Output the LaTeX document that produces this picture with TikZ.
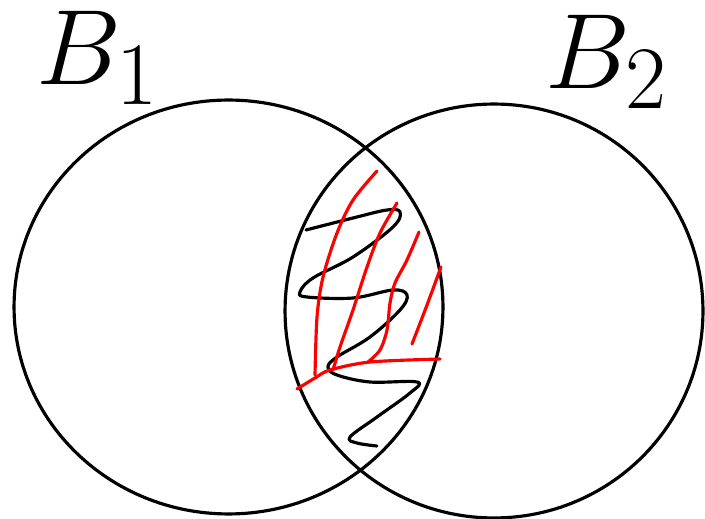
\documentclass[tikz,border=0pt]{standalone}
\usepackage{xcolor}
\tikzset{
  setline/.style={
    draw=black,
    line width=1.8pt
  },
  zigzag/.style={
    draw=black,
    line width=1.8pt,
    line cap=round,
    line join=round
  },
  hatch/.style={
    draw=red,
    line width=1.8pt,
    line cap=round,
    line join=round
  },
  setlabel/.style={
    inner sep=0pt,
    font=\Huge,
    scale=2.45,
    transform shape
  }
}

\begin{document}
\begin{tikzpicture}[x=0.02cm, y=-0.02cm]
  \useasboundingbox (0,0) rectangle (705,519);

  % the two sets
  \draw[setline] (228.5,307) ellipse [x radius=4.29cm, y radius=4.14cm];
  \draw[setline] (494,311) ellipse [x radius=4.18cm, y radius=4.14cm];

  \node[setlabel] (lab1) at (98,58) {$B_1$};
  \node[setlabel] (lab2) at (607,62) {$B_2$};

  % scribble in the overlap
  \draw[zigzag] plot[smooth, tension=0.6] coordinates {
    (306,230) (353,218) (387,210) (400,212) (393,227) (353,257) (313,278)
    (300,292) (307,297) (353,298) (393,290) (407,295) (400,310) (370,337)
    (337,357) (328,367) (337,375) (370,382) (417,382) (410,393) (377,417)
    (350,437) (357,443) (377,446)};

  % red hatching
  \draw[hatch] plot[smooth] coordinates {(377,171) (353,200) (337,233) (323,277) (317,317) (315,375)};
  \draw[hatch] plot[smooth] coordinates {(397,203) (380,233) (367,267) (353,310) (340,347) (333,370)};
  \draw[hatch] plot[smooth] coordinates {(419,232) (407,260) (395,283) (390,303) (387,330) (380,350) (368,362)};
  \draw[hatch] plot[smooth] coordinates {(441,267) (427,305) (412,344)};
  \draw[hatch] plot[smooth] coordinates {(297,389) (315,378) (330,370) (370,362) (440,359)};
\end{tikzpicture}
\end{document}
